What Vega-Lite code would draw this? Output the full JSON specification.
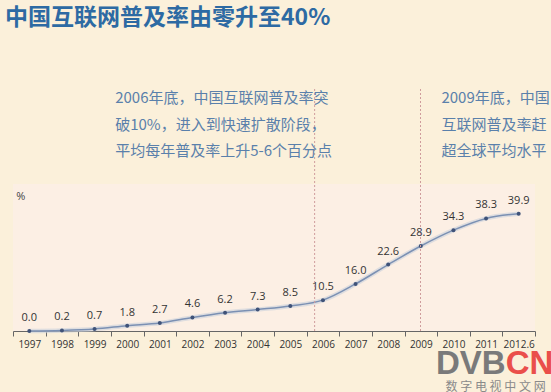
{
  "$schema": "https://vega.github.io/schema/vega-lite/v6.json",
  "autosize": {"type": "none"},
  "width": 522,
  "height": 147,
  "padding": {"left": 13, "top": 184, "right": 16, "bottom": 61},
  "background": "#fbf0da",
  "config": {
    "view": {"stroke": null, "fill": "#fcefe4"},
    "font": "Open Sans"
  },
  "title": {
    "text": "中国互联网普及率由零升至40%",
    "anchor": "start",
    "frame": "group",
    "orient": "top",
    "font": "Noto Sans CJK SC",
    "fontSize": 23,
    "fontWeight": "bold",
    "color": "#2d6aa3",
    "offset": 58,
    "dx": -8
  },
  "layer": [
    {
      "data": {
        "values": [
          {"year": "1997", "rate": 0.0},
          {"year": "1998", "rate": 0.2},
          {"year": "1999", "rate": 0.7},
          {"year": "2000", "rate": 1.8},
          {"year": "2001", "rate": 2.7},
          {"year": "2002", "rate": 4.6},
          {"year": "2003", "rate": 6.2},
          {"year": "2004", "rate": 7.3},
          {"year": "2005", "rate": 8.5},
          {"year": "2006", "rate": 10.5},
          {"year": "2007", "rate": 16.0},
          {"year": "2008", "rate": 22.6},
          {"year": "2009", "rate": 28.9},
          {"year": "2010", "rate": 34.3},
          {"year": "2011", "rate": 38.3},
          {"year": "2012.6", "rate": 39.9}
        ]
      },
      "encoding": {
        "x": {
          "field": "year",
          "type": "ordinal",
          "sort": null,
          "scale": {"type": "band", "paddingInner": 0, "paddingOuter": 0},
          "axis": {
            "title": null,
            "labelAngle": 0,
            "labelOverlap": false,
            "labelFont": "Open Sans",
            "labelFontSize": 10,
            "labelColor": "#333333",
            "labelPadding": 3,
            "domainColor": "#666666",
            "tickColor": "#666666",
            "tickSize": 5,
            "tickBand": "extent",
            "grid": false
          }
        },
        "y": {
          "field": "rate",
          "type": "quantitative",
          "scale": {"domain": [0, 50], "nice": false, "zero": true},
          "axis": null
        }
      },
      "layer": [
        {"mark": {"type": "line", "interpolate": "monotone", "stroke": "#c9d0dc", "strokeWidth": 4.5, "opacity": 0.6}},
        {"mark": {"type": "line", "interpolate": "monotone", "stroke": "#7b90b3", "strokeWidth": 1.5}},
        {"mark": {"type": "point", "filled": true, "color": "#3f5278", "size": 16, "opacity": 1}},
        {
          "mark": {"type": "text", "dy": -13, "fontSize": 11, "color": "#333333", "font": "Open Sans"},
          "encoding": {"text": {"field": "rate", "type": "quantitative", "format": ".1f"}}
        }
      ]
    },
    {
      "data": {"values": [{"year": "2006", "shift": 8}, {"year": "2009", "shift": 16}]},
      "mark": {"type": "rule", "stroke": "#cf9c9c", "strokeDash": [2, 2], "strokeWidth": 1},
      "encoding": {
        "x": {"field": "year", "type": "ordinal", "sort": null},
        "xOffset": {"field": "shift", "type": "quantitative", "scale": null},
        "y": {"datum": 0, "type": "quantitative"},
        "y2": {"datum": 82.5}
      }
    },
    {
      "data": {"values": [
        {"year": "2000", "note": "2006年底，中国互联网普及率突\n破10%，进入到快速扩散阶段，\n平均每年普及率上升5-6个百分点"},
        {"year": "2010", "note": "2009年底，中国\n互联网普及率赶\n超全球平均水平"}
      ]},
      "mark": {"type": "text", "align": "left", "baseline": "middle", "lineBreak": "\n", "lineHeight": 26.5, "fontSize": 15, "font": "Noto Sans CJK SC", "color": "#5a80ab", "dx": -12},
      "encoding": {
        "x": {"field": "year", "type": "ordinal", "sort": null},
        "y": {"datum": 79.1, "type": "quantitative"},
        "text": {"field": "note"}
      }
    },
    {
      "data": {"values": [{"year": "1997", "unit": "%"}]},
      "mark": {"type": "text", "align": "left", "baseline": "middle", "fontSize": 11, "font": "Open Sans", "color": "#444444", "dx": -13},
      "encoding": {
        "x": {"field": "year", "type": "ordinal", "sort": null},
        "y": {"datum": 45.7, "type": "quantitative"},
        "text": {"field": "unit"}
      }
    },
    {
      "data": {"values": [{"year": "2012.6", "t": "DVB"}]},
      "mark": {"type": "text", "align": "right", "baseline": "middle", "fontSize": 33, "font": "Liberation Sans", "fontWeight": "bold", "color": "#7a7a7a", "dx": -13},
      "encoding": {
        "x": {"field": "year", "type": "ordinal", "sort": null},
        "y": {"datum": -11.3, "type": "quantitative"},
        "text": {"field": "t"}
      }
    },
    {
      "data": {"values": [{"year": "2012.6", "t": "CN"}]},
      "mark": {"type": "text", "align": "left", "baseline": "middle", "fontSize": 33, "font": "Liberation Sans", "fontWeight": "bold", "color": "#ea4f4a", "dx": -13},
      "encoding": {
        "x": {"field": "year", "type": "ordinal", "sort": null},
        "y": {"datum": -11.3, "type": "quantitative"},
        "text": {"field": "t"}
      }
    },
    {
      "data": {"values": [{"year": "2012.6", "t": "数 字 电 视 中 文 网"}]},
      "mark": {"type": "text", "align": "right", "baseline": "middle", "fontSize": 12, "font": "Noto Sans CJK SC", "color": "#8a8a8a", "dx": 27},
      "encoding": {
        "x": {"field": "year", "type": "ordinal", "sort": null},
        "y": {"datum": -19.2, "type": "quantitative"},
        "text": {"field": "t"}
      }
    }
  ]
}
